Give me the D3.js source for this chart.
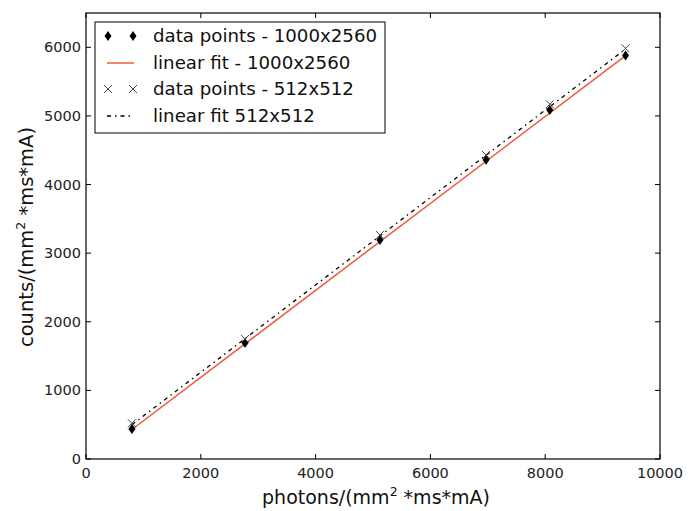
<!DOCTYPE html>
<html><head><meta charset="utf-8">
<script src="https://cdn.jsdelivr.net/npm/d3@7"></script>
<style>body{margin:0;background:#fff;} text{font-family:"DejaVu Sans",sans-serif;}</style>
</head><body>
<svg id="c" width="698" height="511"></svg>
<script>
const photonsA = [800, 2770, 5120, 6970, 8080, 9400];
const countsA  = [437, 1690, 3190, 4360, 5085, 5880];
const photonsB = [800, 2770, 5120, 6970, 8080, 9400];
const countsB  = [520, 1750, 3265, 4430, 5170, 5985];
const fitAx = [800, 9400], fitAy = [430, 5880];
const fitBx = [800, 9400], fitBy = [500, 5975];
const xTicks = [0, 2000, 4000, 6000, 8000, 10000];
const yTicks = [0, 1000, 2000, 3000, 4000, 5000, 6000];
const legendLabels = ["data points - 1000x2560", "linear fit - 1000x2560", "data points - 512x512", "linear fit 512x512"];

const svg = d3.select("#c");
const L=86, R=660, T=13, B=459;
const x = d3.scaleLinear().domain([0,10000]).range([L,R]);
const y = d3.scaleLinear().domain([0,6500]).range([B,T]);

const tl = 5;
const g = svg.append("g");
xTicks.forEach(v=>{
  g.append("line").attr("x1",x(v)).attr("x2",x(v)).attr("y1",B).attr("y2",B-tl).attr("stroke","#000");
  g.append("line").attr("x1",x(v)).attr("x2",x(v)).attr("y1",T).attr("y2",T+tl).attr("stroke","#000");
  g.append("text").attr("x",x(v)).attr("y",B+19).attr("text-anchor","middle").attr("font-size",14.5).attr("fill","#222").text(v);
});
yTicks.forEach(v=>{
  g.append("line").attr("x1",L).attr("x2",L+tl).attr("y1",y(v)).attr("y2",y(v)).attr("stroke","#000");
  g.append("line").attr("x1",R).attr("x2",R-tl).attr("y1",y(v)).attr("y2",y(v)).attr("stroke","#000");
  g.append("text").attr("x",L-5).attr("y",y(v)+5).attr("text-anchor","end").attr("font-size",14.5).attr("fill","#222").text(v);
});

const line = d3.line().x(d=>x(d[0])).y(d=>y(d[1]));
svg.append("path").attr("d",line(d3.zip(fitAx,fitAy))).attr("fill","none").attr("stroke","#f0583c").attr("stroke-width",1.5);
svg.append("path").attr("d",line(d3.zip(fitBx,fitBy))).attr("fill","none").attr("stroke","#000").attr("stroke-width",1.3).attr("stroke-dasharray","4,4,1.5,4");

function diamond(sel,cx,cy){ sel.append("path").attr("d",`M${cx},${cy-5}L${cx+3.5},${cy}L${cx},${cy+5}L${cx-3.5},${cy}Z`).attr("fill","#000"); }
function cross(sel,cx,cy){ sel.append("path").attr("d",`M${cx-4},${cy-4}L${cx+4},${cy+4}M${cx-4},${cy+4}L${cx+4},${cy-4}`).attr("stroke","#444").attr("stroke-width",1).attr("fill","none"); }

photonsA.forEach((p,i)=>diamond(svg,x(p),y(countsA[i])));
photonsB.forEach((p,i)=>cross(svg,x(p),y(countsB[i])));

svg.append("rect").attr("x",L).attr("y",T).attr("width",R-L).attr("height",B-T).attr("fill","none").attr("stroke","#000").attr("stroke-width",1.2);

const lg = svg.append("g");
lg.append("rect").attr("x",95).attr("y",22).attr("width",290).attr("height",111).attr("fill","#fff").attr("stroke","#000").attr("stroke-width",1);
const ly = [36,63,89,116];
diamond(lg,108,ly[0]); diamond(lg,133,ly[0]);
lg.append("line").attr("x1",107).attr("x2",134).attr("y1",ly[1]).attr("y2",ly[1]).attr("stroke","#f0583c").attr("stroke-width",1.5);
cross(lg,108,ly[2]); cross(lg,133,ly[2]);
lg.append("line").attr("x1",107).attr("x2",134).attr("y1",ly[3]).attr("y2",ly[3]).attr("stroke","#000").attr("stroke-width",1.3).attr("stroke-dasharray","4,4,1.5,4");
legendLabels.forEach((t,i)=>lg.append("text").attr("x",153).attr("y",ly[i]+6).attr("font-size",18.2).attr("fill","#111").text(t));

const xl = svg.append("text").attr("x",376).attr("y",504).attr("text-anchor","middle").attr("font-size",19).attr("fill","#111");
xl.append("tspan").text("photons/(mm");
xl.append("tspan").attr("font-size",12.5).attr("dy",-8).text("2");
xl.append("tspan").attr("dy",8).text(" *ms*mA)");
const yl = svg.append("text").attr("transform","translate(33,237) rotate(-90)").attr("text-anchor","middle").attr("font-size",19.5).attr("fill","#111");
yl.append("tspan").text("counts/(mm");
yl.append("tspan").attr("font-size",12.5).attr("dy",-8).text("2");
yl.append("tspan").attr("dy",8).text(" *ms*mA)");
</script>
</body></html>
